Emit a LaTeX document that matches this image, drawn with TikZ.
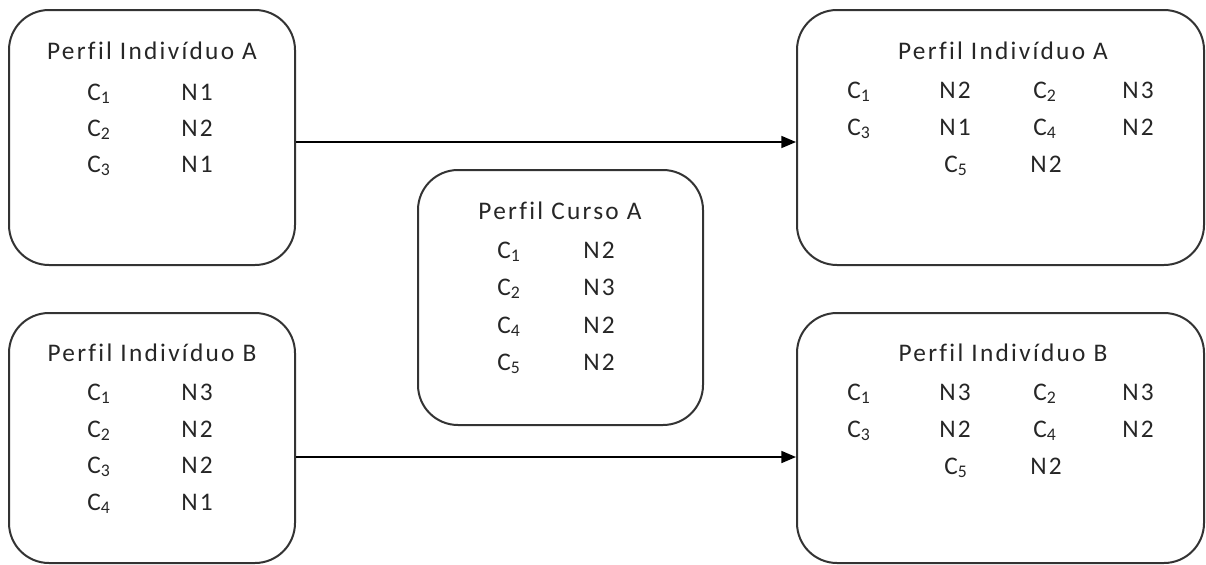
\documentclass[tikz,border=0pt]{standalone}
\usepackage{fontspec}
\setmainfont{Carlito}[LetterSpace=9, Ligatures=NoCommon]
\usetikzlibrary{arrows.meta,fit}
\tikzset{
  profile/.style={draw=black!80, line width=1.5pt, rounded corners=30pt, inner sep=0pt, fit=#1},
  lbl/.style={inner sep=0pt, anchor=base, font=\fontsize{19}{22}\selectfont, text=black!85},
  link/.style={draw=black, line width=1.3pt, -{Triangle[length=11pt, width=9pt]}}
}
\newcommand{\Cs}[1]{C\textsubscript{#1}}
\begin{document}
\begin{tikzpicture}[x=0.75pt, y=-0.75pt]
\useasboundingbox (0,0) rectangle (1206,564);
% corner points of the five profile boxes
\coordinate (ia1) at (9,10);    \coordinate (ia2) at (295,265);
\coordinate (ib1) at (9,313);   \coordinate (ib2) at (295,563);
\coordinate (ca1) at (418,170); \coordinate (ca2) at (703,425);
\coordinate (ra1) at (797,10);  \coordinate (ra2) at (1204,265);
\coordinate (rb1) at (797,313); \coordinate (rb2) at (1204,563);
\node[profile=(ia1)(ia2)] (indA) {};
\node[profile=(ib1)(ib2)] (indB) {};
\node[profile=(ca1)(ca2)] (curA) {};
\node[profile=(ra1)(ra2)] (resA) {};
\node[profile=(rb1)(rb2)] (resB) {};

% individual A
\node[lbl] (tA) at (152,59) {Perfil Indivíduo A};
\node[lbl] (a11) at (99,100) {\Cs{1}};  \node[lbl] (a12) at (197,100) {N1};
\node[lbl] (a21) at (99,136) {\Cs{2}}; \node[lbl] (a22) at (197,136) {N2};
\node[lbl] (a31) at (99,172) {\Cs{3}}; \node[lbl] (a32) at (197,172) {N1};

% individual B
\node[lbl] (tB) at (152,361) {Perfil Indivíduo B};
\node[lbl] (b11) at (99,400) {\Cs{1}}; \node[lbl] (b12) at (197,400) {N3};
\node[lbl] (b21) at (99,437) {\Cs{2}}; \node[lbl] (b22) at (197,437) {N2};
\node[lbl] (b31) at (99,473) {\Cs{3}}; \node[lbl] (b32) at (197,473) {N2};
\node[lbl] (b41) at (99,510) {\Cs{4}}; \node[lbl] (b42) at (197,510) {N1};

% course A
\node[lbl] (tC) at (560,219) {Perfil Curso A};
\node[lbl] (c11) at (509,258) {\Cs{1}}; \node[lbl] (c12) at (599,258) {N2};
\node[lbl] (c21) at (509,295) {\Cs{2}}; \node[lbl] (c22) at (599,295) {N3};
\node[lbl] (c41) at (509,333) {\Cs{4}}; \node[lbl] (c42) at (599,333) {N2};
\node[lbl] (c51) at (509,370) {\Cs{5}}; \node[lbl] (c52) at (599,370) {N2};

% resulting profile A
\node[lbl] (rtA) at (1003,59) {Perfil Indivíduo A};
\node[lbl] at (859,98) {\Cs{1}};  \node[lbl] at (955,98) {N2};
\node[lbl] at (1045,98) {\Cs{2}}; \node[lbl] at (1138,98) {N3};
\node[lbl] at (859,135) {\Cs{3}}; \node[lbl] at (955,135) {N1};
\node[lbl] at (1045,135) {\Cs{4}};\node[lbl] at (1138,135) {N2};
\node[lbl] at (956,172) {\Cs{5}}; \node[lbl] at (1046,172) {N2};

% resulting profile B
\node[lbl] (rtB) at (1003,361) {Perfil Indivíduo B};
\node[lbl] at (859,400) {\Cs{1}};  \node[lbl] at (955,400) {N3};
\node[lbl] at (1045,400) {\Cs{2}}; \node[lbl] at (1138,400) {N3};
\node[lbl] at (859,437) {\Cs{3}}; \node[lbl] at (955,437) {N2};
\node[lbl] at (1045,437) {\Cs{4}};\node[lbl] at (1138,437) {N2};
\node[lbl] at (956,474) {\Cs{5}}; \node[lbl] at (1046,474) {N2};

% connectors
\draw[link] (indA.east |- 0,142) -- (resA.west |- 0,142);
\draw[link] (indB.east |- 0,457) -- (resB.west |- 0,457);
\end{tikzpicture}
\end{document}
